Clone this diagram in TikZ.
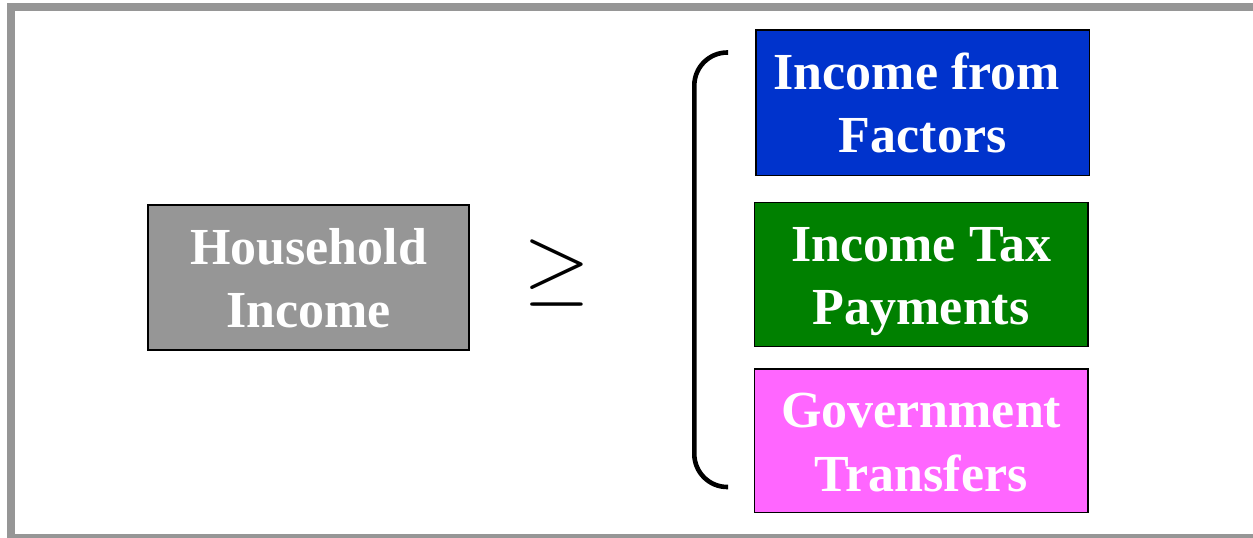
\documentclass[tikz,border=0pt]{standalone}
\usepackage{graphicx}
\usepackage{fontspec}
\setmainfont{Liberation Serif}
\definecolor{framegray}{RGB}{150,150,150}
\definecolor{hhgray}{RGB}{150,150,150}
\definecolor{factorblue}{RGB}{0,51,204}
\definecolor{taxgreen}{RGB}{0,128,0}
\definecolor{transferpink}{RGB}{255,102,255}
% two centred lines with fixed strut height/depth so every box sets its text alike
\newcommand{\twolines}[2]{\rule{0pt}{49pt}#1\\#2\rule[-12pt]{0pt}{12pt}}
\tikzset{
  incbox/.style={draw=black, line width=1.4pt, inner sep=0pt, align=center,
    text=white, font=\fontsize{52}{63.5}\selectfont\bfseries},
}
\begin{document}
\begin{tikzpicture}[x=1pt,y=-1pt]
\useasboundingbox (0,0) rectangle (1253,538);
\clip (0,0) rectangle (1253,538);
% outer frame (its right side lies beyond the page)
\draw[framegray, line width=8pt] (1300,7) -- (11.3,7) -- (11.3,538) -- (1300,538);
% left side
\node[incbox, fill=hhgray, minimum width=321pt, minimum height=145pt]
  (hh) at (308.5,277.5) {\twolines{Household}{Income}};
% relation sign
\node[inner sep=0pt] (geq) at (556.5,273) {\scalebox{8.6}{$\geq$}};
% right side components
\node[incbox, fill=factorblue, minimum width=333.5pt, minimum height=145.5pt]
  (fac) at (922.7,102.7) {\twolines{Income from\rule{12pt}{0pt}}{Factors}};
\node[incbox, fill=taxgreen, minimum width=333.7pt, minimum height=144.2pt]
  (tax) at (921.2,274.6) {\twolines{Income Tax}{Payments}};
\node[incbox, fill=transferpink, minimum width=333.7pt, minimum height=143.7pt]
  (tr) at (921.2,440.8) {\twolines{Government}{Transfers}};
% brace grouping the components
\coordinate (btop) at (728,52.5);
\coordinate (bbot) at (728,487);
\draw[line width=4.6pt, rounded corners=33pt] (btop) -- (694.3,52.5) -- (694.3,487) -- (bbot);
\end{tikzpicture}
\end{document}
